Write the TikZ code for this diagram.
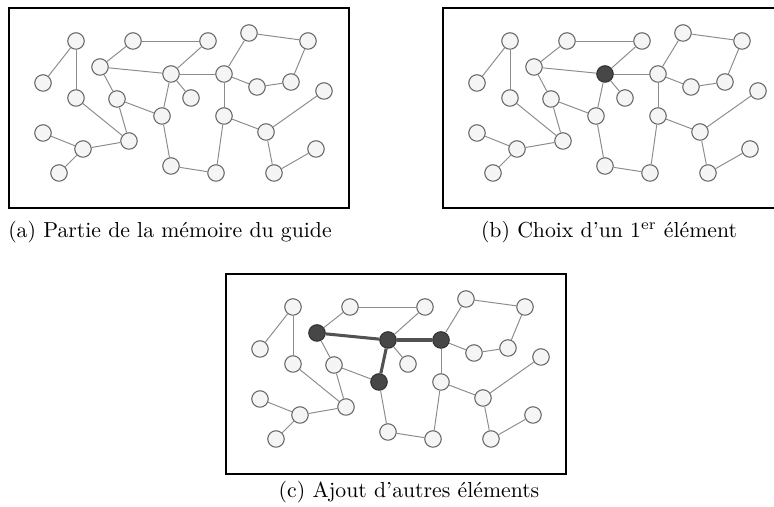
\documentclass[tikz,border=0pt]{standalone}
\usepackage{fontspec}
\usetikzlibrary{positioning}

% one copy of the guide's memory: prefix, x shift, y shift
\newcommand\memoire[3]{%
  \begin{scope}[shift={(#2,#3)}]
    \foreach \i/\x/\y in {1/76/41, 2/43/83, 3/133/41, 4/208/41, 5/100/67,
        6/171/74, 7/191/98, 8/76/98, 9/117/99, 10/162/116, 11/43/133,
        12/83/149, 13/129/141, 14/59/173, 15/171/166, 16/216/173,
        17/249/33, 18/308/41, 19/224/74, 20/257/87, 21/291/82, 22/324/91,
        23/224/116, 24/266/132, 25/316/149, 26/274/173}
      \node[elem, #1\i/.try] (#1\i) at (\x,\y) {};
    \foreach \a/\b in {1/2, 1/8, 3/4, 3/5, 4/6, 5/6, 5/9, 6/7, 6/10, 6/19,
        8/13, 9/10, 9/13, 11/12, 12/13, 12/14, 10/15, 15/16, 16/23, 19/17,
        17/18, 18/21, 20/21, 19/20, 19/23, 23/24, 24/22, 24/26, 26/25}
      \draw[lien] (#1\a) -- (#1\b);
  \end{scope}}

\begin{document}
\begin{tikzpicture}[
        x=0.46pt, y=-0.46pt,
        elem/.style={circle, draw=black!58, fill=black!4, line width=0.5pt,
            minimum size=16.5*0.46pt, inner sep=0pt},
        choisi/.style={fill=black!72, draw=black!80},
        lien/.style={draw=black!45, line width=0.45pt},
        chemin/.style={draw=black!68, line width=1.4pt},
        cadre/.style={draw=black, line width=0.7pt},
        legende/.style={font=\normalsize},
        % highlighted elements
        b6/.style={choisi}, c5/.style={choisi}, c6/.style={choisi},
        c10/.style={choisi}, c19/.style={choisi}
    ]

    \useasboundingbox (0,0) rectangle (774,507);
    \clip (0,0) rectangle (774,507);

    % (a)
    \draw[cadre] (9,8) rectangle (349,208);
    \memoire{a}{0}{0}
    \node[legende] (capa) at (170,232) {(a) Partie de la mémoire du guide};

    % (b)
    \draw[cadre] (443,8) rectangle (783,208);
    \memoire{b}{434}{0}
    \node[legende] (capb) at (609,232) {(b) Choix d’un 1\textsuperscript{er} élément};

    % (c)
    \draw[cadre] (226,274) rectangle (566,474);
    \memoire{c}{217}{266}
    \draw[chemin] (c5) -- (c6);
    \draw[chemin] (c6) -- (c19);
    \draw[chemin] (c6) -- (c10);
    \node[legende] (capc) at (409,492) {(c) Ajout d’autres éléments};

\end{tikzpicture}
\end{document}
